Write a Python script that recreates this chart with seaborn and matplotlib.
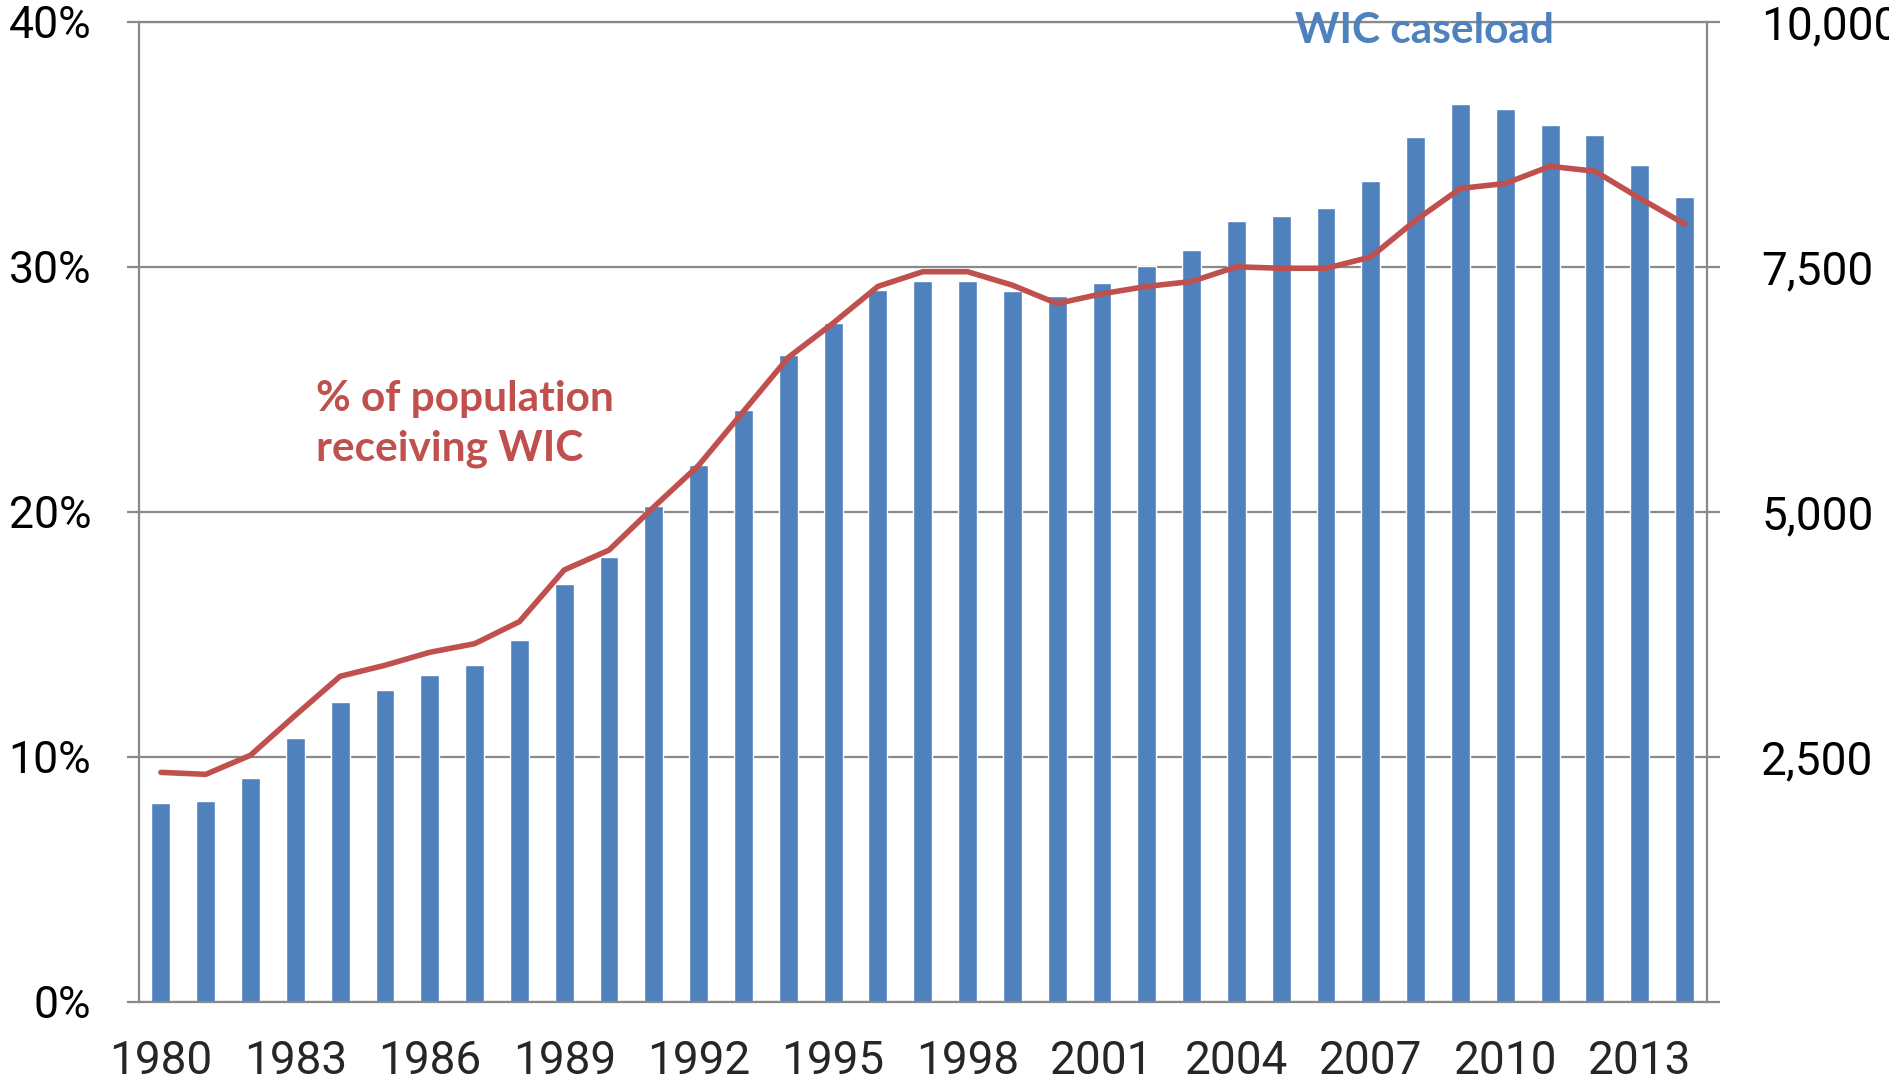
import numpy as np
import pandas as pd
import matplotlib
matplotlib.use("Agg")
import matplotlib.pyplot as plt
import seaborn as sns

# ---- data ----
years = list(range(1980, 2015))
caseload = [2030, 2050, 2280, 2690, 3060, 3180, 3340, 3440, 3690, 4260,
            4540, 5060, 5480, 6040, 6600, 6930, 7260, 7360, 7360, 7250,
            7200, 7330, 7510, 7670, 7970, 8020, 8100, 8380, 8820, 9160,
            9110, 8950, 8840, 8540, 8210]
pct_pop = [9.37, 9.29, 10.07, 11.7, 13.29, 13.74, 14.27, 14.62, 15.52, 17.63,
           18.44, 20.2, 21.9, 24.1, 26.3, 27.7, 29.2, 29.8, 29.8, 29.25,
           28.5, 28.9, 29.2, 29.4, 30.0, 29.94, 29.94, 30.4, 31.9, 33.2,
           33.4, 34.1, 33.9, 32.8, 31.75]
left_ticks = [0, 10, 20, 30, 40]
left_labels = ["0%", "10%", "20%", "30%", "40%"]
right_ticks = [0, 2500, 5000, 7500, 10000]
right_labels = ["", "2,500", "5,000", "7,500", "10,000"]
label_years = years[::3]

BAR_C = "#4F81BD"
LINE_C = "#C0504D"
GRID_C = "#898989"
TICK_FONT = ["Roboto", "Liberation Sans", "DejaVu Sans"]
NOTE_FONT = ["Lato", "DejaVu Sans"]

sns.set_style("white")
plt.rcParams["font.family"] = TICK_FONT

df = pd.DataFrame({"year": years, "caseload": caseload, "pct": pct_pop})
df["pos"] = [years.index(y) for y in years]

fig = plt.figure(figsize=(18.89, 10.84), dpi=100)
ax = fig.add_axes([0.07332, 0.07565, 0.8303, 0.9043])

sns.barplot(data=df, x="year", y="caseload", ax=ax, color=BAR_C,
            saturation=1, width=0.42, errorbar=None, zorder=2)
ax.set_xlim(-0.5, len(years) - 0.5)
ax.set_ylim(0, 10000)
ax.set_axisbelow(True)
ax.grid(axis="y", color=GRID_C, linewidth=1.6)
ax.grid(axis="x", visible=False)

ax2 = ax.twinx()
sns.lineplot(data=df, x="pos", y="pct", ax=ax2, color=LINE_C,
             linewidth=4.0, legend=False)
ax2.set_ylim(0, 40)
ax2.set_xlim(-0.5, len(years) - 0.5)

# right axis (caseload) on primary ax
ax.yaxis.tick_right()
ax.set_yticks(right_ticks)
ax.set_yticklabels(right_labels)
ax.tick_params(axis="y", which="major", length=9, width=1.6, color=GRID_C,
               labelsize=33, pad=30, labelcolor="black")
# left axis (percent) on twin ax
ax2.yaxis.tick_left()
ax2.set_yticks(left_ticks)
ax2.set_yticklabels(left_labels)
ax2.tick_params(axis="y", which="major", length=9, width=1.6, color=GRID_C,
                labelsize=32, pad=25, labelcolor="black")

# x axis: labels every 3 years, ticks at category boundaries
ax.set_xticks([years.index(y) for y in label_years])
ax.set_xticklabels([str(y) for y in label_years])
ax.set_xticks(np.arange(-0.5, len(years), 1.0), minor=True)
ax.tick_params(axis="x", which="major", length=0, labelsize=33, pad=27)
ax.tick_params(axis="x", which="minor", length=8, width=1.6, color=GRID_C)
ax2.tick_params(axis="x", which="both", length=0, labelbottom=False)

ax.set_xlabel("")
ax.set_ylabel("")
ax2.set_xlabel("")
ax2.set_ylabel("")

for name, sp in ax.spines.items():
    sp.set_color(GRID_C)
    sp.set_linewidth(1.6)
    sp.set_visible(True)
for sp in ax2.spines.values():
    sp.set_visible(False)

ax2.text(3.46, 24.12, "% of population", color=LINE_C,
         fontsize=30.5, fontweight="bold", family=NOTE_FONT,
         ha="left", va="baseline")
ax2.text(3.46, 22.08, "receiving WIC", color=LINE_C,
         fontsize=30.5, fontweight="bold", family=NOTE_FONT,
         ha="left", va="baseline")
ax2.text(25.31, 39.15, "WIC caseload", color=BAR_C, fontsize=30.5,
         fontweight="bold", family=NOTE_FONT, ha="left", va="baseline",
         clip_on=False)

fig.savefig("out.png", dpi=100)
